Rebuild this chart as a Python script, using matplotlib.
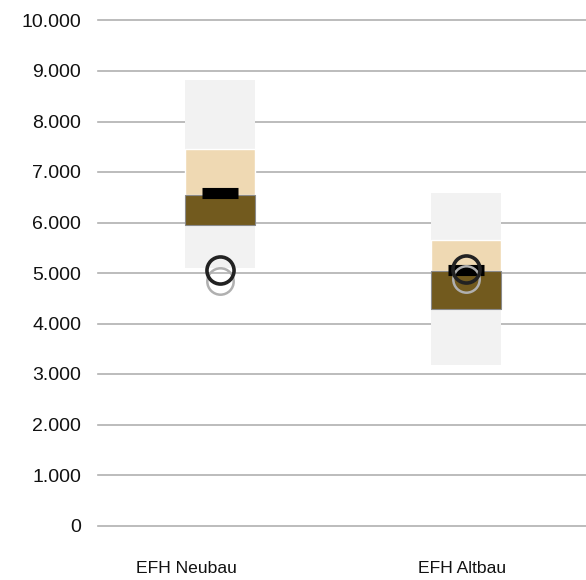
import numpy as np
import matplotlib.pyplot as plt
from matplotlib.ticker import FuncFormatter

plt.rcParams['font.family'] = ['Liberation Sans', 'DejaVu Sans']

# Kategorien und Werte
categories = ["EFH Neubau", "EFH Altbau"]
range_low = [5090, 3170]
range_high = [8830, 6580]
q_low = [5950, 4290]
q_mid = [6540, 5040]
q_high = [7460, 5650]
median_bar = [6580, 5060]
point_dark = [5050, 5080]
point_gray = [4850, 4880]

x = np.arange(len(categories))
box_w = 0.285
bar_w = 0.15

fig = plt.figure(figsize=(5.86, 5.80), dpi=100)
ax = fig.add_axes([98 / 586, 54.5 / 580, 488 / 586, 505 / 580])

# Hintergrund-Spanne
ax.bar(x, np.array(range_high) - np.array(range_low), bottom=range_low,
       width=box_w, color="#f2f2f2", zorder=2)
# oberes Quartil
ax.bar(x, np.array(q_high) - np.array(q_mid), bottom=q_mid,
       width=box_w, color="#efd9b3", edgecolor="white", linewidth=1, zorder=3)
# unteres Quartil
ax.bar(x, np.array(q_mid) - np.array(q_low), bottom=q_low,
       width=box_w, color="#725a1e", edgecolor="#8a8a8a", linewidth=0.8, zorder=4)

# Median-Balken
for xi, m in zip(x, median_bar):
    ax.plot([xi - bar_w / 2, xi + bar_w / 2], [m, m], color="black",
            lw=8, solid_capstyle="butt", zorder=5)

ax.plot(x, point_gray, "o", ms=19, mfc="none", mec="#b0b0b0", mew=1.8, zorder=6)
ax.plot(x, point_dark, "o", ms=19.5, mfc="none", mec="#222222", mew=2.6, zorder=7)

ax.set_xlim(-0.496, 1.488)
ax.set_ylim(0, 10000)
ax.set_yticks(np.arange(0, 10001, 1000))
ax.yaxis.set_major_formatter(FuncFormatter(lambda v, p: f"{v:,.0f}".replace(",", ".")))
ax.tick_params(axis="y", length=0, pad=12, labelsize=14, labelcolor="#111111")
ax.set_xticks([])
ax.grid(axis="y", color="#b0b0b0", linewidth=1.2, zorder=0)
ax.set_axisbelow(True)
for gl in ax.get_ygridlines():
    gl.set_clip_on(False)
for s in ax.spines.values():
    s.set_visible(False)

label_pos = [0.182, 0.746]
for lp, name in zip(label_pos, categories):
    ax.text(lp, -0.086, name, transform=ax.transAxes, ha="center", va="center",
            fontsize=12.6, color="#111111")

fig.savefig("out.png", dpi=100)
